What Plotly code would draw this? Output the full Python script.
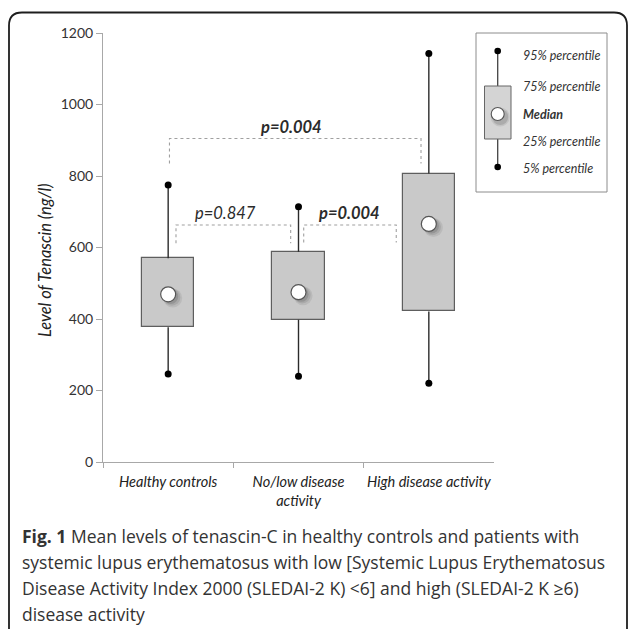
import plotly.graph_objects as go

# ---------------- data ----------------
categories = ["Healthy controls", "No/low disease<br>activity", "High disease activity"]
x_pos = [0, 1, 2]
p5 = [246, 240, 220]
q1 = [377, 398, 421]
median = [469, 475, 666]
q3 = [570, 588, 807]
p95 = [775, 714, 1143]

y_ticks = [0, 200, 400, 600, 800, 1000, 1200]

# comparisons: (x_left, x_right, bracket level, drop level, label x, label y, label, bold)
cmp_x0 = [0.01, 0.06, 1.04]
cmp_x1 = [1.94, 0.94, 1.75]
cmp_top = [905, 663, 663]
cmp_drop = [835, 612, 614]
cmp_lab_x = [0.94, 0.44, 1.385]
cmp_lab_y = [938, 696, 696]
cmp_label = ["p=0.004", "p=0.847", "p=0.004"]
cmp_bold = [True, False, True]

legend_labels = ["95% percentile", "75% percentile", "Median", "25% percentile", "5% percentile"]

caption_lines = [
    "<b>Fig. 1</b> Mean levels of tenascin-C in healthy controls and patients with",
    "systemic lupus erythematosus with low [Systemic Lupus Erythematosus",
    "Disease Activity Index 2000 (SLEDAI-2 K) &lt;6] and high (SLEDAI-2 K ≥6)",
    "disease activity",
]

# ---------------- layout geometry (pixels) ----------------
W, H = 629, 629
L, R, T, B = 103, 494, 33, 462


def px(x):
    return (x - L) / (R - L)


def py(y):
    return (B - y) / (B - T)


fig = go.Figure()

# boxes (IQR)
fig.add_trace(go.Bar(
    x=x_pos, base=q1, y=[b - a for a, b in zip(q1, q3)], width=0.4,
    marker=dict(color="#c9c9c9", line=dict(color="#5e5e5e", width=1.2)),
    showlegend=False, hoverinfo="skip"))

# whiskers
wx, wy = [], []
for i in range(len(x_pos)):
    wx += [x_pos[i], x_pos[i], None, x_pos[i], x_pos[i], None]
    wy += [q3[i], p95[i], None, q1[i], p5[i], None]
fig.add_trace(go.Scatter(x=wx, y=wy, mode="lines",
                         line=dict(color="#2b2b2b", width=1.4),
                         showlegend=False, hoverinfo="skip"))

# whisker end dots
fig.add_trace(go.Scatter(x=x_pos + x_pos, y=p95 + p5, mode="markers",
                         marker=dict(color="black", size=7),
                         showlegend=False, hoverinfo="skip"))

# median shadow (soft) + circle
for dx, dy, sz, op in [(0.035, -10, 19, 0.07), (0.028, -8, 17, 0.09), (0.02, -6, 15, 0.12)]:
    fig.add_trace(go.Scatter(x=[x + dx for x in x_pos], y=[m + dy for m in median], mode="markers",
                             marker=dict(color=f"rgba(0,0,0,{op})", size=sz, line=dict(width=0)),
                             showlegend=False, hoverinfo="skip"))
fig.add_trace(go.Scatter(x=x_pos, y=median, mode="markers",
                         marker=dict(color="white", size=15, line=dict(color="#555555", width=1.2)),
                         showlegend=False, hoverinfo="skip"))

shapes = []
annotations = []

# comparison brackets
for i in range(len(cmp_label)):
    shapes.append(dict(
        type="path", xref="x", yref="y",
        path=f"M {cmp_x0[i]},{cmp_drop[i]} L {cmp_x0[i]},{cmp_top[i]} L {cmp_x1[i]},{cmp_top[i]} L {cmp_x1[i]},{cmp_drop[i]}",
        line=dict(color="#a0a0a0", width=1.1, dash="dot")))
    txt = f"<i>{cmp_label[i]}</i>"
    if cmp_bold[i]:
        txt = f"<b>{txt}</b>"
    annotations.append(dict(x=cmp_lab_x[i], y=cmp_lab_y[i], xref="x", yref="y", text=txt,
                            showarrow=False, font=dict(family="Lato", size=16.5, color="#2b2b2b")))

# legend panel
shapes.append(dict(type="rect", xref="paper", yref="paper",
                   x0=px(476), x1=px(607), y0=py(192), y1=py(33),
                   line=dict(color="#8c8c8c", width=1), fillcolor="white", layer="below"))
lx = 497.7
shapes.append(dict(type="line", xref="paper", yref="paper", x0=px(lx), x1=px(lx), y0=py(51), y1=py(86),
                   line=dict(color="#444", width=1.3)))
shapes.append(dict(type="line", xref="paper", yref="paper", x0=px(lx), x1=px(lx), y0=py(139), y1=py(167),
                   line=dict(color="#444", width=1.3)))
shapes.append(dict(type="rect", xref="paper", yref="paper", x0=px(484.5), x1=px(511), y0=py(139), y1=py(86),
                   fillcolor="#d4d4d4", line=dict(color="#666", width=1)))
for cy in (51, 167):
    shapes.append(dict(type="circle", xref="paper", yref="paper",
                       x0=px(lx - 3.3), x1=px(lx + 3.3), y0=py(cy + 3.3), y1=py(cy - 3.3),
                       fillcolor="black", line=dict(color="black", width=0)))
for d, op in [(9.5, 0.08), (8, 0.12)]:
    shapes.append(dict(type="circle", xref="paper", yref="paper",
                       x0=px(lx - d + 2.5), x1=px(lx + d + 2.5), y0=py(114 + d + 3), y1=py(114 - d + 3),
                       fillcolor=f"rgba(0,0,0,{op})", line=dict(width=0)))
shapes.append(dict(type="circle", xref="paper", yref="paper",
                   x0=px(lx - 6.5), x1=px(lx + 6.5), y0=py(114 + 6.5), y1=py(114 - 6.5),
                   fillcolor="white", line=dict(color="#555", width=1.1)))
leg_y = [56, 86, 115, 141.5, 168]
for lab, yy in zip(legend_labels, leg_y):
    t = f"<i>{lab}</i>"
    if lab == "Median":
        t = f"<b>{t}</b>"
    annotations.append(dict(x=px(521), y=py(yy), xref="paper", yref="paper", text=t,
                            xanchor="left", yanchor="middle", showarrow=False,
                            font=dict(family="Lato", size=12.5, color="#333")))

# y-axis title
annotations.append(dict(x=px(45), y=py(260), xref="paper", yref="paper",
                        text="<i>Level of Tenascin (ng/l)</i>", textangle=-90, showarrow=False,
                        xanchor="center", yanchor="middle",
                        font=dict(family="Lato", size=16.5, color="#222")))

# caption
for k, line in enumerate(caption_lines):
    annotations.append(dict(x=px(20), y=py(536 + 26 * k), xref="paper", yref="paper", text=line,
                            xanchor="left", yanchor="middle", showarrow=False,
                            font=dict(family="Open Sans", size=17.5, color="#333")))

# outer rounded frame
x0f, y0f, x1f, y1f, r = 9, 12.5, 627, 650, 13
path = (f"M {px(x0f)},{py(y1f)} L {px(x0f)},{py(y0f + r)} "
        f"Q {px(x0f)},{py(y0f)} {px(x0f + r)},{py(y0f)} "
        f"L {px(x1f - r)},{py(y0f)} Q {px(x1f)},{py(y0f)} {px(x1f)},{py(y0f + r)} "
        f"L {px(x1f)},{py(y1f)}")
shapes.append(dict(type="path", xref="paper", yref="paper", path=path,
                   line=dict(color="#1e1e1e", width=1.8)))

fig.update_layout(
    width=W, height=H,
    margin=dict(l=L, r=W - R, t=T, b=H - B),
    paper_bgcolor="white", plot_bgcolor="white",
    shapes=shapes, annotations=annotations,
    showlegend=False, bargap=0,
    xaxis=dict(range=[-0.5, 2.5], tickvals=x_pos, ticktext=categories,
               showline=True, linecolor="#a8a8a8", linewidth=1,
               ticks="", showgrid=False, zeroline=False, ticklabelstandoff=7,
               tickfont=dict(family="Lato", size=14.5, color="#222", style="italic"),
               minor=dict(tickvals=[-0.5, 0.5, 1.5], ticks="outside", ticklen=5, tickcolor="#a8a8a8"),
               fixedrange=True),
    yaxis=dict(range=[0, 1200], tickvals=y_ticks, showline=True, linecolor="#a8a8a8", linewidth=1,
               ticks="outside", ticklen=6, tickcolor="#a8a8a8", showgrid=False, zeroline=False,
               tickfont=dict(family="Lato", size=14, color="#333"), fixedrange=True),
)

fig.write_html("out.html")
